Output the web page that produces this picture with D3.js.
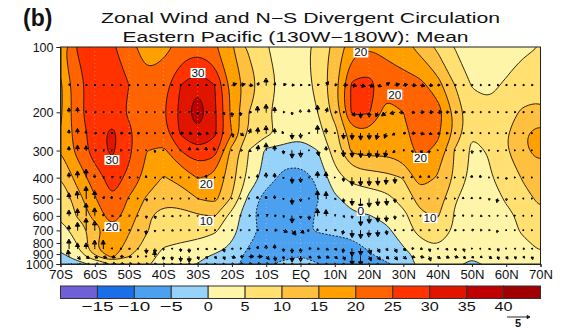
<!DOCTYPE html>
<html>
<head>
<meta charset="utf-8">
<script src="https://cdn.jsdelivr.net/npm/d3@7"></script>
<style>
html, body { margin: 0; padding: 0; background: #fff; }
svg { display: block; }
text { font-family: "Liberation Sans", Arial, sans-serif; fill: #111; }
</style>
</head>
<body>
<div id="draw"></div>
<script>
// zonal wind (m/s), 70S..70N every 5 deg
var lats = [-70,-65,-60,-55,-50,-45,-40,-35,-30,-25,-20,-15,-10,-5,0,5,10,15,20,25,30,35,40,45,50,55,60,65,70];
var levels = [100,150,200,250,300,400,500,600,700,850,925,1000];
var u100 = [19,25.5,28,25.6,22,17.5,18.5,21.5,23,20.5,15.2,9,5.2,3.5,4,6,12,18,19.8,19,17,13,9,4.8,3.5,3,3,4.5,5];
var u150 = [14,23,27.5,27.5,25,21.5,23,30,34,30,19,13,7,4,2.5,6.5,13.5,26,27,22,22,21.5,17,10,4.8,4.2,5.5,6.5,7];
var u200 = [14,24,27.5,26.5,24.5,22.5,24.5,31.5,39,31,18,10,5.5,3,1.5,5,12,26,25.5,18,20,22.5,22.5,14,6.5,5.8,8,11,12];
var u250 = [15,22.5,27,31.5,25.8,22,23,30.5,34,31,20,9.5,6,4,1,3.5,8,18,19,17,19,22,21,14,5.3,5.8,9.5,14.5,17];
var u300 = [15,21.5,27.5,31,26,20.1,19,25,29.5,27,13,4.8,-1,-2,-2,0,7,16,17,16.5,18.5,21,19,9.5,4,5.3,9.7,14.5,16.5];
var u400 = [10,17,22.5,27,24,18.5,14.7,16.5,20.2,19,12,3.5,-2,-6.5,-7,-4.3,3.5,6.5,7.5,8.5,10.2,18,14.5,9.5,3.5,4.5,7,10.5,13];
var u500 = [5,13,19.5,24.9,19.5,14.5,12,12.5,15,16.5,9.5,-1.5,-7.5,-9,-9.5,-5.3,-0.8,1.5,2.5,3.5,7,12,13,5.5,2.5,3,5.5,8.5,11];
var u600 = [6,10.5,17,22.5,18,11,7.5,8,9.5,10.2,3,-3.8,-7.5,-9,-9,-4,-2.5,-0.5,-0.2,1.5,3.5,9,10.5,4.5,2,2.8,4,6,9];
var u700 = [3,7,12,18.5,15.5,10.5,7.5,7,7,5.8,1.5,-3,-6.5,-7.5,-6,-4.5,-3.5,-3.2,-2.8,-1.2,3,6.5,7.5,4.5,2.5,2.5,3.8,5.5,6.5];
var u850 = [1,4.5,14.9,18,12.8,8,4.8,4,3,1.5,-1,-5.4,-7.5,-8,-8,-8.5,-8.5,-7,-4.5,-2.5,-0.4,3,4.8,3.5,2.5,2.8,3,4,5.3];
var u925 = [-1.5,2,8.5,16,10,7,3.5,1.8,1,-0.8,-3.5,-6,-7,-6,-5,-6,-8,-8,-6,-3.5,-1,0.8,1.8,1.5,0.5,1.5,2,2.5,3];
var u1000 = [-3,-1.5,1,5.2,7,6,2.5,0.8,-0.1,-2,-4,-6,-5.5,-4,-3.5,-4.8,-7,-8.5,-8,-5.8,-1.5,1,2,1.2,-1,1,2,2,1.5];

var thresholds = [-20,-15,-10,-5,0,5,10,15,20,25,30,35,40];
var colors = ['#7060d8','#1a6ee8','#4ba0f0','#96d2fa','#fff5a8','#ffe070','#ffc040','#ffa000','#ff6400','#ff3200','#e11400','#c00000','#a00000'];
var barLabels = [-15,-10,-5,0,5,10,15,20,25,30,35,40];

var yTicks = [100,200,300,400,500,600,700,800,900,1000];
var xTicks = [-70,-60,-50,-40,-30,-20,-10,0,10,20,30,40,50,60,70];
var xTickNames = ['70S','60S','50S','40S','30S','20S','10S','EQ','10N','20N','30N','40N','50N','60N','70N'];

var labelVals = [30,30,20,20,20,20,10,20,0,10];
var labelLats = [-29.9,-55,17.6,27.5,35,-27.5,-27.5,-55,17.6,37.8];
var labelLevs = [131.8,331.7,106,165.7,324.7,428,633,675,570,613.7];

// divergent circulation, 67.5S..67.5N every 2.5 deg
var vecLats = d3.range(-67.5, 67.6, 2.5);
var vecLevels = [150,200,250,300,400,500,600,700,850,925,1000];
var v150 = [.3,.2,.2,.2,.2,.2,.2,.2,.2,.2,.2,.2,.2,.2,.2,.2,.2,.2,.2,1,1,.8,.3,0,.1,.6,.5,.3,.2,.3,.5,.5,.9,1,1,1,.8,.7,1,.9,.9,.9,.8,.5,.4,.3,.2,.2,.2,.2,.2,.2,.2,.2,.2];
var w150 = [.2,0,0,0,0,0,0,0,0,0,0,0,0,0,0,0,0,0,0,.3,.2,-.1,.5,1.5,.5,.2,0,0,0,.1,.7,.1,0,-.2,-.3,-.3,-.3,.5,.2,.1,-.1,-.2,-.1,0,0,0,0,0,0,0,0,0,0,0,0];
var v200 = [0,0,0,.3,.2,.2,.2,.1,.2,.2,.1,.2,.2,.1,.2,0,.3,.3,.2,0,0,.5,0,0,0,.3,0,0,0,0,.3,.5,.3,.6,0,0,-.4,-1,-1,-.8,.6,.8,.9,.9,.6,.6,.4,.3,.2,.2,.2,.2,.2,.2,.2];
var w200 = [.9,1,.3,0,0,0,0,0,0,0,0,0,0,0,.1,-.4,0,0,-.5,-.9,-.7,0,1.3,1.7,1.1,0,-.5,.5,.6,1.5,.9,0,0,-.8,-1.2,-1,-.9,-.7,-.2,0,-.1,0,0,0,0,0,0,0,0,0,0,0,0,0,0];
var v250 = [0,0,0,.4,.2,.2,.5,.3,.4,.3,.2,.2,.4,.6,.6,.7,.4,.5,.1,.2,.6,.4,.1,0,0,-.2,0,0,.1,0,0,.1,0,0,0,0,-.3,-.4,-.5,.5,.7,.8,.6,.5,.4,.2,.2,0,.1,.1,.1,.1,.1,.1,.1];
var w250 = [.7,1,.5,0,0,0,0,0,0,0,0,0,0,0,-.1,-.3,-.1,0,.1,-.8,-.5,.9,1.2,1.6,1,.4,-1.2,-1,.1,1.7,1,.1,-1.2,-1.3,-1.4,-1.3,-1.3,-1,-.3,0,0,-.2,-.2,-.1,0,0,0,.3,0,0,0,0,0,0,0];
var v300 = [0,0,0,.4,.3,.1,.3,.1,.1,.1,0,.1,.1,.1,.2,0,0,-.2,.1,.1,.4,.4,.2,0,0,0,0,0,.1,.2,0,0,0,0,0,0,-.2,-.3,-.4,.3,.2,.3,0,.1,.1,.1,.2,0,0,.1,0,.1,.1,.1,.1];
var w300 = [.8,1.1,1,0,0,0,0,0,0,0,-.4,0,0,0,.6,.6,.7,.6,0,0,0,-.2,1.1,1.6,1,-.7,-1.6,-1.4,0,-1.1,.8,-.3,-1.3,-1.4,-1.5,-1.5,-1.5,-1.4,-.4,0,-.4,-.5,-.5,0,0,0,0,-.6,-.3,0,-.2,0,0,0,0];
var v400 = [0,0,0,0,.3,.3,.1,.3,.1,0,.1,.1,.1,.1,.1,.1,0,.1,.1,.1,.1,.1,0,0,0,0,0,0,.1,0,0,.1,0,0,0,0,0,-.1,0,.1,0,0,0,.1,0,.1,.1,0,0,.1,.1,0,.1,.1,.1];
var w400 = [1,1.4,1.8,.6,0,.2,.1,0,0,.4,-.1,-.1,.1,.1,0,0,.5,0,0,0,0,0,.6,1,.9,-.2,-1.2,-1,.1,1.3,1.2,0,-.8,-1.7,-1.7,-1.7,-1.6,-1.4,-1.2,0,.3,.4,.4,0,-.2,0,0,.5,.5,0,-.1,-.4,0,0,0];
var v500 = [0,-.1,0,0,.2,0,.1,.1,.1,.1,.1,.1,.1,.1,.1,.1,.1,.1,.1,.1,.1,.1,0,0,0,0,0,0,.1,0,0,.2,0,0,0,0,0,.1,0,.1,.1,.1,.1,.1,.1,.1,0,0,0,0,-.2,0,.1,.1,.1];
var w500 = [1.2,1.6,2.6,1.7,.4,.5,0,0,0,-.5,0,-.1,0,0,0,-.1,0,0,0,0,0,0,.5,.5,.6,-.2,-1.2,-.6,0,1.7,1.5,-.2,-.8,-1.4,-2,-1.8,-1.5,-1.4,-.8,0,0,0,0,0,0,0,.3,.3,.3,-.3,-.8,-.4,-.1,0,0];
var v600 = [0,0,0,0,.1,.3,.2,.2,.1,0,.1,.2,.2,.1,.1,.1,.1,.1,.1,.1,.1,.3,.2,.4,.3,.1,0,0,0,0,0,.2,.2,0,0,0,0,0,0,.1,.1,.1,.1,.1,.1,.1,0,.2,.3,.1,.1,.1,.1,.1,.1];
var w600 = [1.2,1.5,2.7,1.7,.4,-.1,0,0,0,-.5,-.6,-.1,-.2,0,0,0,0,0,0,0,0,0,.2,.2,0,-.3,-1.5,-.5,-.8,1.5,1.3,.2,-.3,-.5,-2.1,-1.6,-1.3,-1.2,-.7,0,-.1,0,0,0,0,0,.2,0,-.1,-.1,0,-.1,0,0,0];
var v700 = [0,0,0,0,.1,.1,.1,.2,.3,-.1,0,.1,.3,.2,.2,.2,.2,.2,.2,.2,.2,.2,.2,.3,.5,.8,.8,.7,-.4,0,.1,.3,-.2,0,0,-.1,0,.1,.2,.2,.2,.2,.2,.2,.2,.3,.2,.4,.3,.2,-.2,.1,.1,.1,.1];
var w700 = [1,1.7,2.6,2,.1,.1,0,0,0,-.8,-.3,-.1,-.1,0,0,0,0,0,-.1,0,0,0,0,0,0,-.4,-1,-.6,0,.3,0,0,-.8,-1.5,-1.7,-1.4,-1.3,-.9,0,0,0,0,0,0,0,0,0,.1,0,0,-.4,0,0,0,0];
var v850 = [0,0,0,0,0,.1,.2,.2,.1,0,0,0,.1,0,0,.1,.2,.2,.2,.2,.2,.2,.1,0,0,0,0,0,.4,.3,.4,.4,-.1,0,0,.3,.4,.3,.4,.5,.4,.4,.2,.1,.3,.2,.2,.1,0,.2,.2,.1,.1,.2,.1];
var w850 = [2,1.2,1.2,1.8,1.8,.1,-.1,-.1,-.1,-1,-.9,-.3,-.1,-.6,-.8,-.2,-.2,-.2,-.7,-.1,0,0,.5,.7,.8,-.6,-.9,-.8,0,-.1,-.3,-.3,-.8,-1.6,-1.4,-1.2,-.8,-.4,-.8,-.4,0,-.1,-.6,-.1,-.3,-.4,-.6,0,.1,-.2,-.5,0,-.1,-.1,-.1];
var v925 = [-.2,.5,.6,.6,.7,.7,.6,.5,.2,0,0,0,0,0,0,.2,.2,.3,.3,.7,.6,1,1,.6,.1,0,0,0,.4,.6,.6,.5,.3,0,0,.4,.5,.5,.5,.6,.6,.7,.3,.5,.6,.7,.4,.3,.3,.5,.2,.3,.2,.2,.1];
var w925 = [1.4,-.6,-.4,-.3,-.3,-.2,0,-.1,0,.2,1.2,-.7,-.7,-1,-1.2,-.6,-.4,-.4,-.6,-.3,0,0,0,-.6,-.9,-.5,-1.1,-1,-.3,-.3,-.3,-.4,-.7,-1.8,-1.9,-.9,-.7,-.5,-.7,-.5,-.2,-.2,-.9,-.4,-.3,-.2,-.4,-.3,-.2,-.4,-.6,-.5,-.5,-.3,-.6];
var v1000 = [.7,.8,.9,1,1,.9,.8,.6,.5,.4,.3,.3,.2,.2,.2,.2,.2,.2,.2,.3,.5,.6,.6,.5,.4,.3,.2,.1,.2,.2,.2,.2,.2,.1,.1,.1,.1,0,0,0,0,0,0,0,0,0,0,0,0,0,0,0,0,0,0];
var w1000 = [-.6,-.5,-.4,-.3,-.2,-.1,-.1,0,0,0,0,0,0,0,0,0,0,0,0,0,0,0,0,0,0,0,0,0,0,0,0,0,0,0,0,0,0,0,0,0,0,0,0,0,0,0,0,0,0,0,0,0,0,0,0];

var margin = { top: 47, right: 27.5, bottom: 68, left: 60.5 },
	width = 568,
	height = 332;
var x0 = margin.left,
	x1 = width - margin.right,
	y0 = margin.top,
	y1 = height - margin.bottom;

var x = d3.scaleLinear().domain([-70, 70]).range([x0, x1]);
var y = d3.scaleLog().domain([100, 1000]).range([y0, y1]);
var arrowLen = d3.scaleLinear().domain([0, 5]).range([0, 23]);
var barX = d3.scaleLinear().domain([-20, 45]).range([x0, x1]);

var svg = d3.select('#draw').append('svg').attr('width', width).attr('height', height);

svg.append('defs').append('clipPath').attr('id', 'plot').append('rect')
	.attr('x', x0).attr('y', y0).attr('width', x1 - x0).attr('height', y1 - y0);

// contours work in grid index space, grid point i sits at i + 0.5
var rows = [u100,u150,u200,u250,u300,u400,u500,u600,u700,u850,u925,u1000];
var values = d3.merge(rows);
var gridX = d3.scaleLinear().domain([0.5, lats.length - 0.5]).range([x(lats[0]), x(lats[lats.length - 1])]);
var gridY = d3.scaleLinear()
	.domain(levels.map(function (d, i) { return i + 0.5; }))
	.range(levels.map(function (d) { return y(d); }));
var ringLine = d3.line().curve(d3.curveBasisClosed)
	.x(function (p) { return gridX(p[0]); })
	.y(function (p) { return gridY(p[1]); });
function gridPath(d) {
	var out = '';
	d.coordinates.forEach(function (poly) {
		poly.forEach(function (ring) {
			out += ringLine(ring.slice(0, -1));
		});
	});
	return out;
}
var bands = d3.contours().size([lats.length, levels.length]).thresholds(thresholds)(values);

var plot = svg.append('g').attr('clip-path', 'url(#plot)');
plot.append('rect').attr('x', x0).attr('y', y0).attr('width', x1 - x0).attr('height', y1 - y0).attr('fill', colors[0]);
plot.selectAll('path.fill').data(bands).enter().append('path')
	.attr('class', 'fill')
	.attr('d', gridPath)
	.attr('fill', function (d, i) { return colors[i]; });
plot.selectAll('path.line').data(bands).enter().append('path')
	.attr('class', 'line')
	.attr('d', gridPath)
	.attr('fill', 'none')
	.attr('stroke', '#1a1208')
	.attr('stroke-width', 0.9)
	.attr('stroke-dasharray', function (d) { return d.value < 0 ? '2,1.5' : null; });

// faint grid
var grid = svg.append('g').attr('stroke', '#fff').attr('stroke-opacity', 0.3).attr('stroke-dasharray', '1,3');
grid.selectAll('line.gx').data(xTicks.slice(1, -1)).enter().append('line')
	.attr('x1', function (d) { return x(d); }).attr('x2', function (d) { return x(d); })
	.attr('y1', y0).attr('y2', y1);
grid.selectAll('line.gy').data(yTicks.slice(1, -1)).enter().append('line')
	.attr('x1', x0).attr('x2', x1)
	.attr('y1', function (d) { return y(d); }).attr('y2', function (d) { return y(d); });

// wind arrows
var vecRows = [[v150,w150],[v200,w200],[v250,w250],[v300,w300],[v400,w400],[v500,w500],[v600,w600],[v700,w700],[v850,w850],[v925,w925],[v1000,w1000]];
var vectors = [];
vecRows.forEach(function (r, j) {
	vecLats.forEach(function (lat, i) {
		if (r[0][i] !== 0 || r[1][i] !== 0) vectors.push({ lat: lat, lev: vecLevels[j], v: r[0][i], w: r[1][i] });
		else if (vecLevels[j] < 1000) vectors.push({ lat: lat, lev: vecLevels[j], v: 0.1, w: 0 });
	});
});

function arrow(x_, y_, dx, dy, scale) {
	var len = Math.sqrt(dx * dx + dy * dy) || 0.01;
	var ux = dx / len, uy = dy / len;
	var head = Math.min(3.6, 0.6 + len * 0.5) * scale;
	var half = head * 0.55;
	var tx = x_ + dx, ty = y_ + dy;
	var bx = tx - ux * head, by = ty - uy * head;
	return 'M' + x_ + ',' + y_ + 'L' + bx + ',' + by +
		'M' + tx + ',' + ty + 'L' + (bx - uy * half) + ',' + (by + ux * half) +
		'L' + (bx + uy * half) + ',' + (by - ux * half) + 'Z';
}

plot.selectAll('path.vec').data(vectors).enter().append('path')
	.attr('class', 'vec')
	.attr('d', function (d) {
		return arrow(x(d.lat), y(d.lev), arrowLen(d.v), -arrowLen(d.w), 1);
	})
	.attr('fill', '#000')
	.attr('stroke', '#000')
	.attr('stroke-width', 1)
	.attr('stroke-linecap', 'round');

// contour labels
var labels = svg.append('g').selectAll('g').data(labelVals).enter().append('g')
	.attr('transform', function (d, i) {
		return 'translate(' + x(labelLats[i]) + ',' + y(labelLevs[i]) + ')';
	});
labels.append('rect')
	.attr('x', function (d) { return d === 0 ? -4 : -7.5; })
	.attr('y', -5)
	.attr('width', function (d) { return d === 0 ? 8 : 15; })
	.attr('height', 10)
	.attr('fill', '#fff');
labels.append('text')
	.attr('text-anchor', 'middle')
	.attr('y', 4)
	.attr('font-size', 10.5)
	.attr('textLength', function (d) { return d === 0 ? 7 : 13; })
	.attr('lengthAdjust', 'spacingAndGlyphs')
	.text(function (d) { return d; });

// axes
var yAxis = d3.axisLeft(y).tickValues(yTicks).tickFormat(d3.format('d')).tickSize(4).tickPadding(3);
var xAxis = d3.axisBottom(x).tickValues(xTicks).tickFormat(function (d, i) { return xTickNames[i]; }).tickSize(3).tickPadding(3);
var gy = svg.append('g').attr('transform', 'translate(' + x0 + ',0)').call(yAxis);
var gx = svg.append('g').attr('transform', 'translate(0,' + y1 + ')').call(xAxis);
gy.selectAll('text').attr('font-size', 12.5).style('font-family', '"Liberation Sans"').attr('dy', '0.36em');
gx.selectAll('text').attr('font-size', 12.5).style('font-family', '"Liberation Sans"').attr('textLength', 24).attr('lengthAdjust', 'spacingAndGlyphs');
gx.selectAll('.tick').filter(function (d) { return d === 0; }).select('text').attr('textLength', 18);
svg.selectAll('.domain').attr('stroke', '#222');
svg.selectAll('.tick line').attr('stroke', '#222');
svg.append('rect').attr('x', x0).attr('y', y0).attr('width', x1 - x0).attr('height', y1 - y0)
	.attr('fill', 'none').attr('stroke', '#222').attr('stroke-width', 1);

// colour bar
var bar = svg.append('g');
bar.selectAll('rect').data(thresholds).enter().append('rect')
	.attr('x', function (d) { return barX(d); })
	.attr('y', 286)
	.attr('width', function (d) { return barX(d + 5) - barX(d); })
	.attr('height', 12.5)
	.attr('fill', function (d, i) { return colors[i]; })
	.attr('stroke', '#333')
	.attr('stroke-width', 1);
bar.selectAll('text').data(barLabels).enter().append('text')
	.attr('x', function (d) { return barX(d); })
	.attr('y', 311)
	.attr('text-anchor', 'middle')
	.attr('font-size', 13)
	.attr('textLength', function (d) { return String(Math.abs(d)).length * 9 + (d < 0 ? 14 : 0); })
	.attr('lengthAdjust', 'spacingAndGlyphs')
	.text(function (d) { return d < 0 ? '\u2212' + Math.abs(d) : d; });

// reference arrow
svg.append('path')
	.attr('d', arrow(507, 317, arrowLen(5), 0, 0.8))
	.attr('fill', '#111').attr('stroke', '#111').attr('stroke-width', 0.9);
svg.append('text').attr('x', 518).attr('y', 326.5).attr('text-anchor', 'middle')
	.attr('font-size', 11).attr('font-weight', 'bold').text('5');

// titles
svg.append('text').attr('x', 23).attr('y', 26).attr('font-size', 23).attr('font-weight', 'bold').text('(b)');
svg.append('text').attr('x', 101).attr('y', 23).attr('font-size', 14)
	.attr('textLength', 399).attr('lengthAdjust', 'spacingAndGlyphs')
	.text('Zonal Wind and N\u2212S Divergent Circulation');
svg.append('text').attr('x', 122.5).attr('y', 42).attr('font-size', 14)
	.attr('textLength', 346).attr('lengthAdjust', 'spacingAndGlyphs')
	.text('Eastern Pacific (130W\u2212180W): Mean');
</script>
</body>
</html>
